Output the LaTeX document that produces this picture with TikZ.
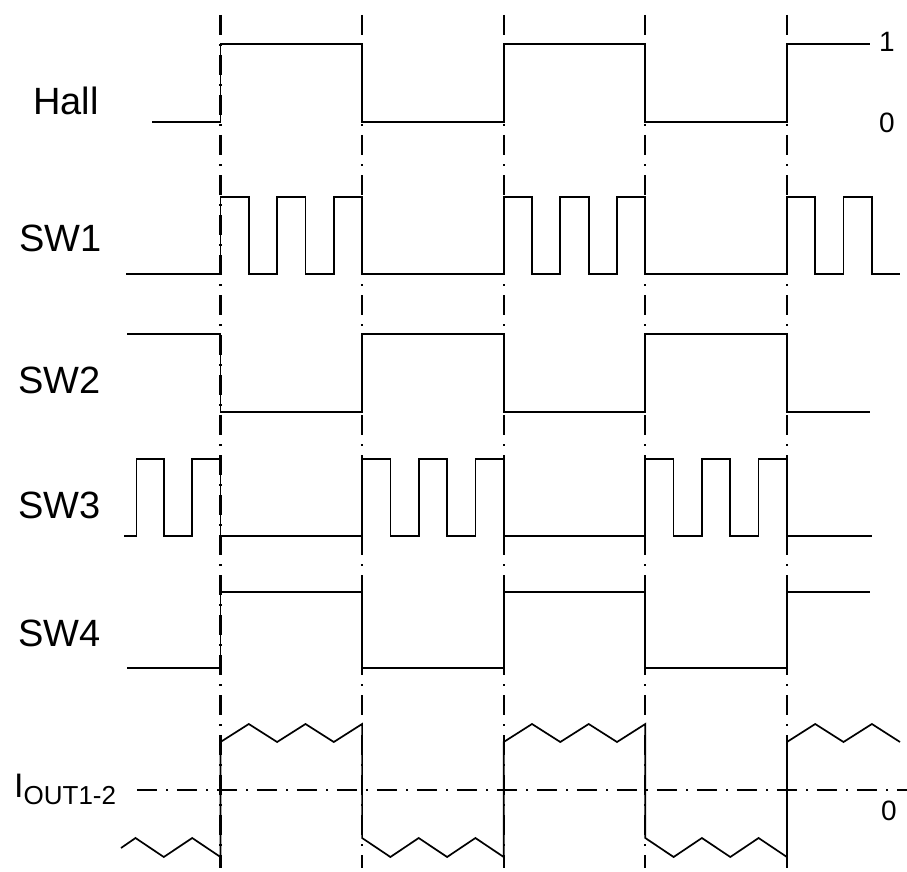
\documentclass[tikz,border=0pt]{standalone}
\usepackage{fontspec}
\setmainfont{Liberation Sans}
\usepackage{xcolor}
\definecolor{tracecolor}{HTML}{000000}

\begin{document}
\begin{tikzpicture}[x = 1pt, y = -1pt,
        sig/.style = {draw = tracecolor, line width = 1.7pt, line join = miter},
        guide/.style = {draw = tracecolor, line width = 2.2pt, dash pattern = on 20pt off 9pt on 2pt off 9pt},
        lbl/.style = {inner sep = 0pt, anchor = base west, font = \fontsize{38}{40}\selectfont},
        lvl/.style = {inner sep = 0pt, font = \fontsize{28}{30}\selectfont}]

        \useasboundingbox (0, 0) rectangle (907, 872);

        % Labels
        \node [lbl] (hall) at (33, 115) {Hall};
        \node [lbl] (sw1) at (19, 251) {SW1};
        \node [lbl] (sw2) at (18, 393) {SW2};
        \node [lbl] (sw3) at (18, 518) {SW3};
        \node [lbl] (sw4) at (18, 646) {SW4};
        \node [lbl, font = \fontsize{34}{36}\selectfont] (iout) at (14, 797) {I\raisebox{-7pt}{\fontsize{26}{28}\selectfont OUT1-2}};
        \node [lvl] (one) at (887, 42) {1};
        \node [lvl] (zero) at (887, 123) {0};
        \node [lvl] (izero) at (889, 811) {0};

        % Commutation instants
        \draw [guide] (220.5, 15) -- (220.5, 868);
        \draw [guide] (362.1, 15) -- (362.1, 868);
        \draw [guide] (503.7, 15) -- (503.7, 868);
        \draw [guide] (645.3, 15) -- (645.3, 868);
        \draw [guide] (786.9, 15) -- (786.9, 868);

        % Zero current
        \draw [guide] (137, 790) -- (907, 790);

        % Hall
        \draw [sig] (152, 122) -- (220.5, 122) -- (220.5, 44) -- (362.1, 44) -- (362.1, 122) -- (503.7, 122) -- (503.7, 44) -- (645.3, 44) -- (645.3, 122) -- (786.9, 122) -- (786.9, 44) -- (870, 44);

        % SW1
        \draw [sig] (126, 274) -- (220.5, 274) -- (220.5, 197) -- (248.8, 197) -- (248.8, 274) -- (277.1, 274) -- (277.1, 197) -- (305.5, 197) -- (305.5, 274) -- (333.8, 274) -- (333.8, 197) -- (362.1, 197) -- (362.1, 274)
            -- (503.7, 274) -- (503.7, 197) -- (532, 197) -- (532, 274) -- (560.3, 274) -- (560.3, 197) -- (588.7, 197) -- (588.7, 274) -- (617, 274) -- (617, 197) -- (645.3, 197) -- (645.3, 274)
            -- (786.9, 274) -- (786.9, 197) -- (815.2, 197) -- (815.2, 274) -- (843.5, 274) -- (843.5, 197) -- (871.9, 197) -- (871.9, 274) -- (900, 274);

        % SW2
        \draw [sig] (127, 334) -- (220.5, 334) -- (220.5, 412) -- (362.1, 412) -- (362.1, 334) -- (503.7, 334) -- (503.7, 412) -- (645.3, 412) -- (645.3, 334) -- (786.9, 334) -- (786.9, 412) -- (870, 412);

        % SW3
        \draw [sig] (124, 536) -- (136.5, 536) -- (136.5, 459) -- (163.8, 459) -- (163.8, 536) -- (192.2, 536) -- (192.2, 459) -- (220.5, 459) -- (220.5, 536)
            -- (362.1, 536) -- (362.1, 459) -- (390.4, 459) -- (390.4, 536) -- (418.7, 536) -- (418.7, 459) -- (447.1, 459) -- (447.1, 536) -- (475.4, 536) -- (475.4, 459) -- (503.7, 459) -- (503.7, 536)
            -- (645.3, 536) -- (645.3, 459) -- (673.6, 459) -- (673.6, 536) -- (701.9, 536) -- (701.9, 459) -- (730.3, 459) -- (730.3, 536) -- (758.6, 536) -- (758.6, 459) -- (786.9, 459) -- (786.9, 536) -- (872, 536);

        % SW4
        \draw [sig] (127, 668) -- (220.5, 668) -- (220.5, 592) -- (362.1, 592) -- (362.1, 668) -- (503.7, 668) -- (503.7, 592) -- (645.3, 592) -- (645.3, 668) -- (786.9, 668) -- (786.9, 592) -- (870, 592);

        % Output current
        \draw [sig] (121, 848) -- (135.5, 838) -- (163.8, 857) -- (192.2, 838) -- (220.5, 857) -- (220.5, 742)
            -- (248.8, 724) -- (277.1, 742) -- (305.5, 724) -- (333.8, 742) -- (362.1, 724) -- (362.1, 838)
            -- (390.4, 857) -- (418.7, 838) -- (447.1, 857) -- (475.4, 838) -- (503.7, 857) -- (503.7, 742)
            -- (532, 724) -- (560.3, 742) -- (588.7, 724) -- (617, 742) -- (645.3, 724) -- (645.3, 838)
            -- (673.6, 857) -- (701.9, 838) -- (730.3, 857) -- (758.6, 838) -- (786.9, 857) -- (786.9, 742)
            -- (815.2, 724) -- (843.5, 742) -- (871.9, 724) -- (900, 742);

    \end{tikzpicture}
\end{document}
